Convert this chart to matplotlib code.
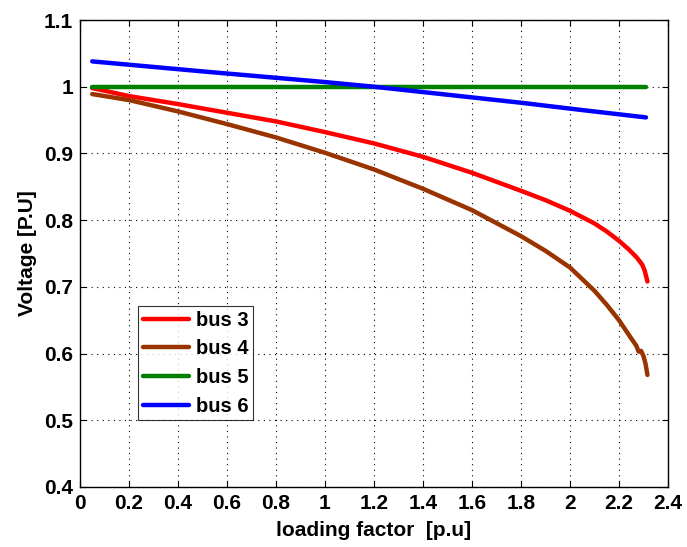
import matplotlib
matplotlib.use("Agg")
import matplotlib.pyplot as plt
import numpy as np

plt.rcParams['font.family'] = ['Liberation Sans', 'DejaVu Sans']

# data
x3 = [0.05, 0.2, 0.4, 0.6, 0.8, 1.0, 1.2, 1.4, 1.6, 1.8, 1.9, 2.0, 2.1, 2.15, 2.2, 2.24, 2.27, 2.285, 2.295, 2.305, 2.316]
v3 = [0.998, 0.986, 0.974, 0.961, 0.948, 0.932, 0.915, 0.895, 0.871, 0.844, 0.830, 0.814, 0.795, 0.783, 0.769, 0.756, 0.745, 0.738, 0.733, 0.724, 0.708]

x4 = [0.05, 0.2, 0.4, 0.6, 0.8, 1.0, 1.2, 1.4, 1.6, 1.8, 1.9, 2.0, 2.1, 2.15, 2.2, 2.24, 2.27, 2.28, 2.29, 2.30, 2.308, 2.316]
v4 = [0.989, 0.980, 0.963, 0.944, 0.924, 0.901, 0.876, 0.847, 0.815, 0.776, 0.754, 0.729, 0.694, 0.673, 0.650, 0.628, 0.612, 0.603, 0.604, 0.596, 0.585, 0.568]

x5 = [0.05, 2.31]
v5 = [1.0, 1.0]

x6 = [0.05, 0.5, 1.0, 1.2, 1.5, 1.8, 2.05, 2.31]
v6 = [1.038, 1.023, 1.007, 1.0, 0.988, 0.976, 0.965, 0.954]

labels = ['bus 3', 'bus 4', 'bus 5', 'bus 6']
colors = ['#ff0000', '#993300', '#008000', '#0000ff']

xticks = [0, 0.2, 0.4, 0.6, 0.8, 1, 1.2, 1.4, 1.6, 1.8, 2, 2.2, 2.4]
xticklabels = ['0', '0.2', '0.4', '0.6', '0.8', '1', '1.2', '1.4', '1.6', '1.8', '2', '2.2', '2.4']
yticks = [0.4, 0.5, 0.6, 0.7, 0.8, 0.9, 1.0, 1.1]
yticklabels = ['0.4', '0.5', '0.6', '0.7', '0.8', '0.9', '1', '1.1']

fig = plt.figure(figsize=(6.87, 5.47), dpi=100)
ax = fig.add_axes([0.1164, 0.1097, 0.8560, 0.8537])

for xs, vs, lab, c in zip([x3, x4, x5, x6], [v3, v4, v5, v6], labels, colors):
    ax.plot(xs, vs, color=c, lw=3.2, label=lab, solid_capstyle='round')

ax.set_xlim(0, 2.4)
ax.set_ylim(0.4, 1.1)
ax.set_xticks(xticks)
ax.set_xticklabels(xticklabels)
ax.set_yticks(yticks)
ax.set_yticklabels(yticklabels)
ax.tick_params(direction='in', top=True, right=True, length=4, width=0.8,
               labelsize=15, pad=5)
for t in ax.get_xticklabels() + ax.get_yticklabels():
    t.set_fontweight('bold')
ax.grid(True, color='black', linestyle=(0, (1, 4)), linewidth=0.8)
for s in ax.spines.values():
    s.set_linewidth(1.0)

ax.set_xlabel('loading factor  [p.u]', fontsize=15, fontweight='bold', labelpad=6)
ax.set_ylabel('Voltage [P.U]', fontsize=15, fontweight='bold', labelpad=5)

leg = ax.legend(loc='lower left', bbox_to_anchor=(0.099, 0.143),
                prop={'weight': 'bold', 'size': 14.5}, frameon=True, fancybox=False,
                edgecolor='black', handlelength=2.3, borderaxespad=0,
                labelspacing=0.48, handletextpad=0.35, borderpad=0.22)
leg.get_frame().set_linewidth(0.8)

fig.savefig('out.png', dpi=100)
